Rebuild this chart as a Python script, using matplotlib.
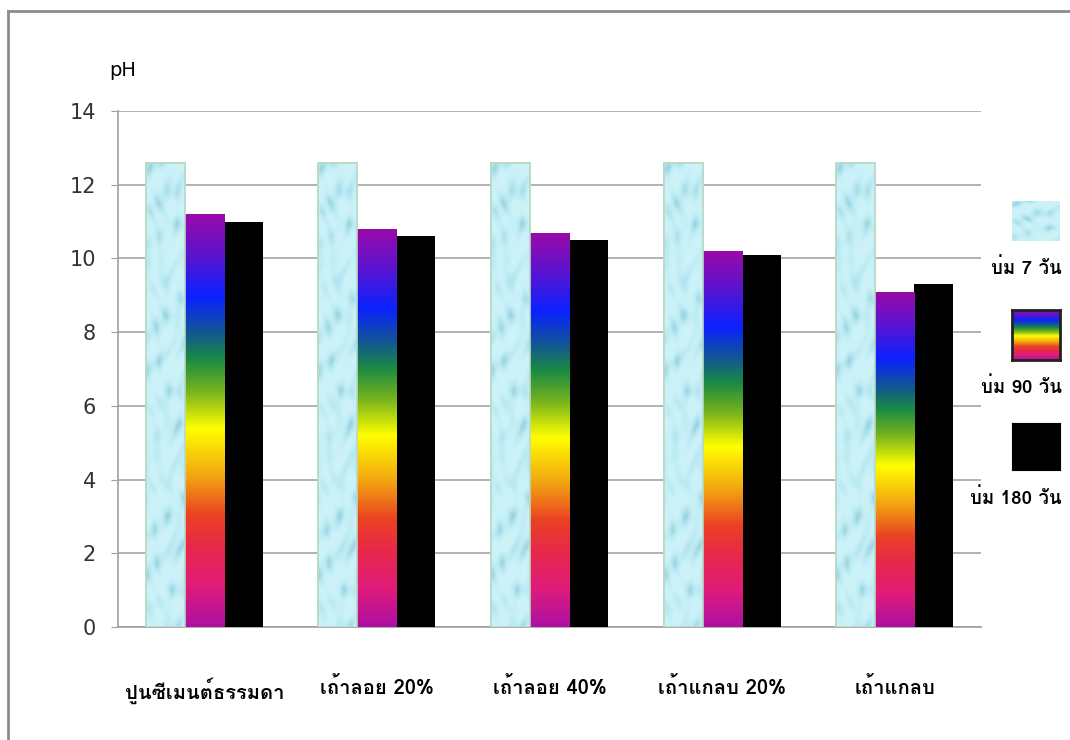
import numpy as np
import matplotlib
matplotlib.use("Agg")
import matplotlib.pyplot as plt
from matplotlib import font_manager
from matplotlib.ft2font import FT2Font
from matplotlib.colors import LinearSegmentedColormap
from matplotlib.patches import Rectangle

# pH of mortar after curing
categories = ["ปูนซีเมนต์ธรรมดา", "เถ้าลอย 20%", "เถ้าลอย 40%", "เถ้าแกลบ 20%", "เถ้าแกลบ"]
ph_7d = [12.6, 12.6, 12.6, 12.6, 12.6]
ph_90d = [11.2, 10.8, 10.7, 10.2, 9.1]
ph_180d = [11.0, 10.6, 10.5, 10.1, 9.3]
series_names = ["บ่ม 7 วัน", "บ่ม 90 วัน", "บ่ม 180 วัน"]
yticks = [0, 2, 4, 6, 8, 10, 12, 14]


def find_thai_family():
    for f in font_manager.fontManager.ttflist:
        try:
            if 0x0E1B in FT2Font(f.fname).get_charmap():
                return f.name
        except Exception:
            pass
    return "DejaVu Sans"


thai = find_thai_family()
plt.rcParams["font.family"] = [thai, "DejaVu Sans"]

rainbow = LinearSegmentedColormap.from_list("rainbow_fill", [
    (0.00, "#9a0aa8"), (0.10, "#5a14d0"), (0.20, "#0a22ff"), (0.29, "#125a8c"),
    (0.35, "#1a8a44"), (0.43, "#78b41e"), (0.52, "#ffff00"), (0.64, "#f2a012"),
    (0.73, "#ea4222"), (0.81, "#e8284a"), (0.90, "#e01c78"), (1.00, "#ae10a4")])
water = LinearSegmentedColormap.from_list("water_fill", ["#cdf3f9", "#b8e8f1", "#9ad3e1"])

# soft droplet texture for the 7-day bars
yy, xx = np.mgrid[0:400, 0:60]
drops = (np.sin(xx / 5.0 + 1.8 * np.sin(yy / 13.0)) * np.sin(yy / 7.0 + 1.3 * np.cos(xx / 9.0))
         + 0.6 * np.sin((xx + 2 * yy) / 11.0))
drops = (drops - drops.min()) / (drops.max() - drops.min())
drops = drops ** 2.5

fig = plt.figure(figsize=(10.7, 7.4), dpi=100)
ax = fig.add_axes([118 / 1070, 113 / 740, 863 / 1070, 516 / 740])

x = np.arange(len(categories))
w = 0.226

bars7 = ax.bar(x - w, ph_7d, w, facecolor="#c8eff6", edgecolor="#b9d9c4", linewidth=1.2, zorder=3)
bars90 = ax.bar(x, ph_90d, w, facecolor="none", edgecolor="none", zorder=3)
bars180 = ax.bar(x + w, ph_180d, w, color="black", zorder=3)

for b in bars7:
    x0, y0, bw, bh = b.get_x(), b.get_y(), b.get_width(), b.get_height()
    im = ax.imshow(drops, cmap=water, extent=(x0, x0 + bw, y0, y0 + bh), aspect="auto",
                   zorder=3.5, interpolation="bicubic")
    im.set_clip_path(b)
    ax.add_patch(Rectangle((x0, y0), bw, bh, fill=False, edgecolor="#b9d9c4", linewidth=1.2, zorder=3.6))

grad = np.linspace(0, 1, 256).reshape(-1, 1)
for b in bars90:
    x0, y0, bw, bh = b.get_x(), b.get_y(), b.get_width(), b.get_height()
    im = ax.imshow(grad, cmap=rainbow, extent=(x0, x0 + bw, y0, y0 + bh), aspect="auto", zorder=3.5)
    im.set_clip_path(b)

ax.set_xlim(-0.5, len(categories) - 0.5)
ax.set_ylim(0, 14)
ax.set_yticks(yticks)
ax.set_yticklabels([str(v) for v in yticks], family=["DejaVu Sans"], fontsize=15, color="#333333")
ax.set_xticks(x)
ax.set_xticklabels(categories, fontsize=14.5, fontweight="bold")
ax.tick_params(axis="x", length=0, pad=36)
ax.tick_params(axis="y", length=5, color="#a0a0a0", pad=11)
ax.grid(axis="y", color="#a6a6a6", linewidth=1.2, zorder=0)
for s in ["top", "right"]:
    ax.spines[s].set_visible(False)
for s in ["left", "bottom"]:
    ax.spines[s].set_color("#a0a0a0")
    ax.spines[s].set_linewidth(1.2)

fig.text(109 / 1070, 1 - 70 / 740, "pH", family=["DejaVu Sans"], fontsize=14, va="center", ha="left")

# legend on the right
sw = [(201, 241), (310, 360), (423, 470)]
lab_y = [268, 387, 498]
for i, (top, bot) in enumerate(sw):
    lax = fig.add_axes([1012 / 1070, 1 - bot / 740, 48 / 1070, (bot - top) / 740])
    lax.set_xticks([])
    lax.set_yticks([])
    if i == 0:
        lax.imshow(drops[:80, :], cmap=water, aspect="auto", interpolation="bicubic")
        for s in lax.spines.values():
            s.set_visible(False)
    elif i == 1:
        lax.imshow(grad, cmap=rainbow, aspect="auto")
        for s in lax.spines.values():
            s.set_linewidth(2)
            s.set_color("#222222")
    else:
        lax.set_facecolor("black")
    fig.text(1062 / 1070, 1 - lab_y[i] / 740, series_names[i], fontsize=13.5, fontweight="bold",
             ha="right", va="center")

# outer frame
fig.add_artist(plt.Line2D([8 / 1070, 8 / 1070], [0, 1 - 11 / 740], color="#8c8c8c", linewidth=2,
                          transform=fig.transFigure))
fig.add_artist(plt.Line2D([8 / 1070, 1], [1 - 11 / 740, 1 - 11 / 740], color="#8c8c8c", linewidth=2,
                          transform=fig.transFigure))

fig.savefig("out.png", dpi=100)
